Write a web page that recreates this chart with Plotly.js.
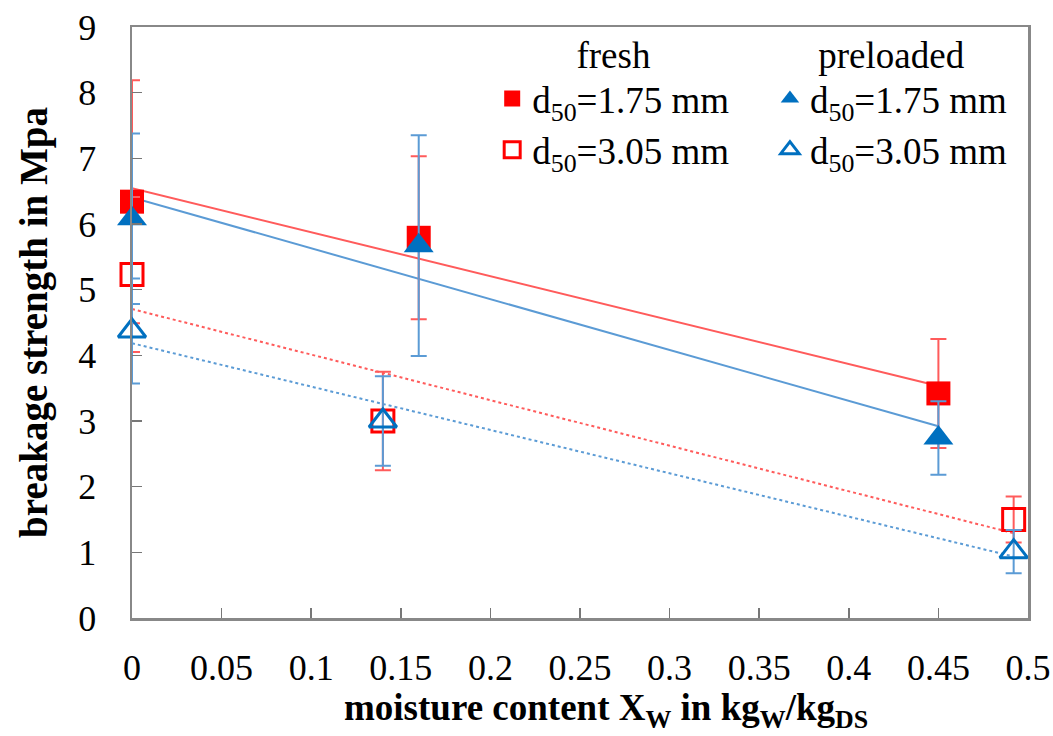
<!DOCTYPE html>
<html><head><meta charset="utf-8">
<script src="https://cdn.plot.ly/plotly-3.0.1.min.js"></script>
<style>html,body{margin:0;padding:0;background:#fff}</style>
</head><body><div id="chart" style="width:1053px;height:736px"></div>
<script>
// ---- data ----
const xFresh175 = [0, 0.16, 0.45];
const yFresh175 = [6.34, 5.79, 3.42];
const eFresh175 = [1.85, 1.24, 0.83];

const xFresh305 = [0, 0.14, 0.492];
const yFresh305 = [5.23, 3.0, 1.5];
const eFresh305 = [1.18, 0.75, 0.35];

const xPre175 = [0, 0.16, 0.45];
const yPre175 = [6.08, 5.67, 2.74];
const ePre175 = [1.3, 1.68, 0.56];

const xPre305 = [0, 0.14, 0.492];
const yPre305 = [4.37, 3.0, 1.01];
const ePre305 = [0.8, 0.68, 0.33];

const xTickVals = [0, 0.05, 0.1, 0.15, 0.2, 0.25, 0.3, 0.35, 0.4, 0.45, 0.5];
const xTickText = ['0', '0.05', '0.1', '0.15', '0.2', '0.25', '0.3', '0.35', '0.4', '0.45', '0.5'];
const yTickVals = [0, 1, 2, 3, 4, 5, 6, 7, 8, 9];

const nameFresh175 = 'd<sub>50</sub>=1.75 mm';
const nameFresh305 = 'd<sub>50</sub>=3.05 mm';
const namePre175 = 'd<sub>50</sub>=1.75 mm';
const namePre305 = 'd<sub>50</sub>=3.05 mm';

const xTitle = '<b>moisture content X<sub>W</sub> in kg<sub>W</sub>/kg<sub>DS</sub></b>';
const yTitle = '<b>breakage strength in Mpa</b>';

// ---- helpers ----
function linFit(xs, ys) {
  const n = xs.length;
  const mx = xs.reduce((a, b) => a + b, 0) / n;
  const my = ys.reduce((a, b) => a + b, 0) / n;
  let sxy = 0, sxx = 0;
  for (let i = 0; i < n; i++) { sxy += (xs[i] - mx) * (ys[i] - my); sxx += (xs[i] - mx) ** 2; }
  const m = sxy / sxx, b = my - m * mx;
  const x0 = Math.min(...xs), x1 = Math.max(...xs);
  return { x: [x0, x1], y: [b + m * x0, b + m * x1] };
}

const RED = '#FF0000';
const RED_LIGHT = '#FF5B5B';
const BLUE = '#0070C0';
const BLUE_LIGHT = '#5B9BD5';
const FONT = "'Liberation Serif', 'Times New Roman', Times, 'DejaVu Serif', serif";

function trend(xs, ys, color, dash) {
  const f = linFit(xs, ys);
  return { x: f.x, y: f.y, mode: 'lines', type: 'scatter', showlegend: false, hoverinfo: 'skip',
           line: { color: color, width: 2, dash: dash }, cliponaxis: false };
}
function pts(xs, ys, es, name, symbol, size, color, ecolor, legend, lw) {
  return { x: xs, y: ys, name: name, mode: 'markers', type: 'scatter', legend: legend, cliponaxis: false,
           marker: { symbol: symbol, size: size, color: color, line: { color: color, width: lw } },
           error_y: { type: 'data', array: es, visible: true, color: ecolor, thickness: 2, width: 8 } };
}

const data = [
  trend(xFresh175, yFresh175, RED_LIGHT, 'solid'),
  trend(xPre175, yPre175, BLUE_LIGHT, 'solid'),
  trend(xFresh305, yFresh305, RED_LIGHT, 'dot'),
  trend(xPre305, yPre305, BLUE_LIGHT, 'dot'),
  pts(xFresh175, yFresh175, eFresh175, nameFresh175, 'square', 24, RED, RED_LIGHT, 'legend', 0),
  pts(xFresh305, yFresh305, eFresh305, nameFresh305, 'square-open', 22, RED, RED_LIGHT, 'legend', 3),
  pts(xPre175, yPre175, ePre175, namePre175, 'triangle-up', 26, BLUE, BLUE_LIGHT, 'legend2', 0),
  pts(xPre305, yPre305, ePre305, namePre305, 'triangle-up-open', 24, BLUE, BLUE_LIGHT, 'legend2', 3)
];

const legendCommon = {
  yanchor: 'top', xanchor: 'left', y: 1.012,
  bgcolor: 'rgba(0,0,0,0)', borderwidth: 0,
  font: { family: FONT, size: 37, color: '#000' },
  itemwidth: 30, tracegroupgap: 0, traceorder: 'normal'
};

const layout = {
  width: 1053, height: 736,
  margin: { l: 132, r: 25, t: 27, b: 118 },
  paper_bgcolor: '#fff', plot_bgcolor: '#fff',
  font: { family: FONT, color: '#000' },
  showlegend: true,
  legend: Object.assign({}, legendCommon, { x: 0.402, title: { text: 'fresh', side: 'top center', font: { family: FONT, size: 37, color: '#000' } } }),
  legend2: Object.assign({}, legendCommon, { x: 0.712, title: { text: 'preloaded', side: 'top center', font: { family: FONT, size: 37, color: '#000' } } }),
  xaxis: {
    range: [0, 0.5], tickvals: xTickVals, ticktext: xTickText,
    ticks: 'inside', ticklen: 10, tickwidth: 1.5, tickcolor: '#777',
    showline: true, linecolor: '#888', linewidth: 2.5, mirror: true,
    showgrid: false, zeroline: false,
    tickfont: { family: FONT, size: 36, color: '#000' }, ticklabelstandoff: 16
  },
  yaxis: {
    range: [0, 9], tickvals: yTickVals,
    ticks: 'inside', ticklen: 10, tickwidth: 1.5, tickcolor: '#777',
    showline: true, linecolor: '#888', linewidth: 2.5, mirror: true,
    showgrid: false, zeroline: false,
    tickfont: { family: FONT, size: 36, color: '#000' }, ticklabelstandoff: 26,
    title: { text: yTitle, font: { family: FONT, size: 39, color: '#000' }, standoff: 19 }
  },
  annotations: [{
    text: xTitle, xref: 'paper', yref: 'paper', x: 0.529, y: 0,
    xanchor: 'center', yanchor: 'middle', yshift: -92, showarrow: false,
    font: { family: FONT, size: 37, color: '#000' }
  }]
};

Plotly.newPlot('chart', data, layout, { staticPlot: true, displayModeBar: false });
</script>
</body></html>
